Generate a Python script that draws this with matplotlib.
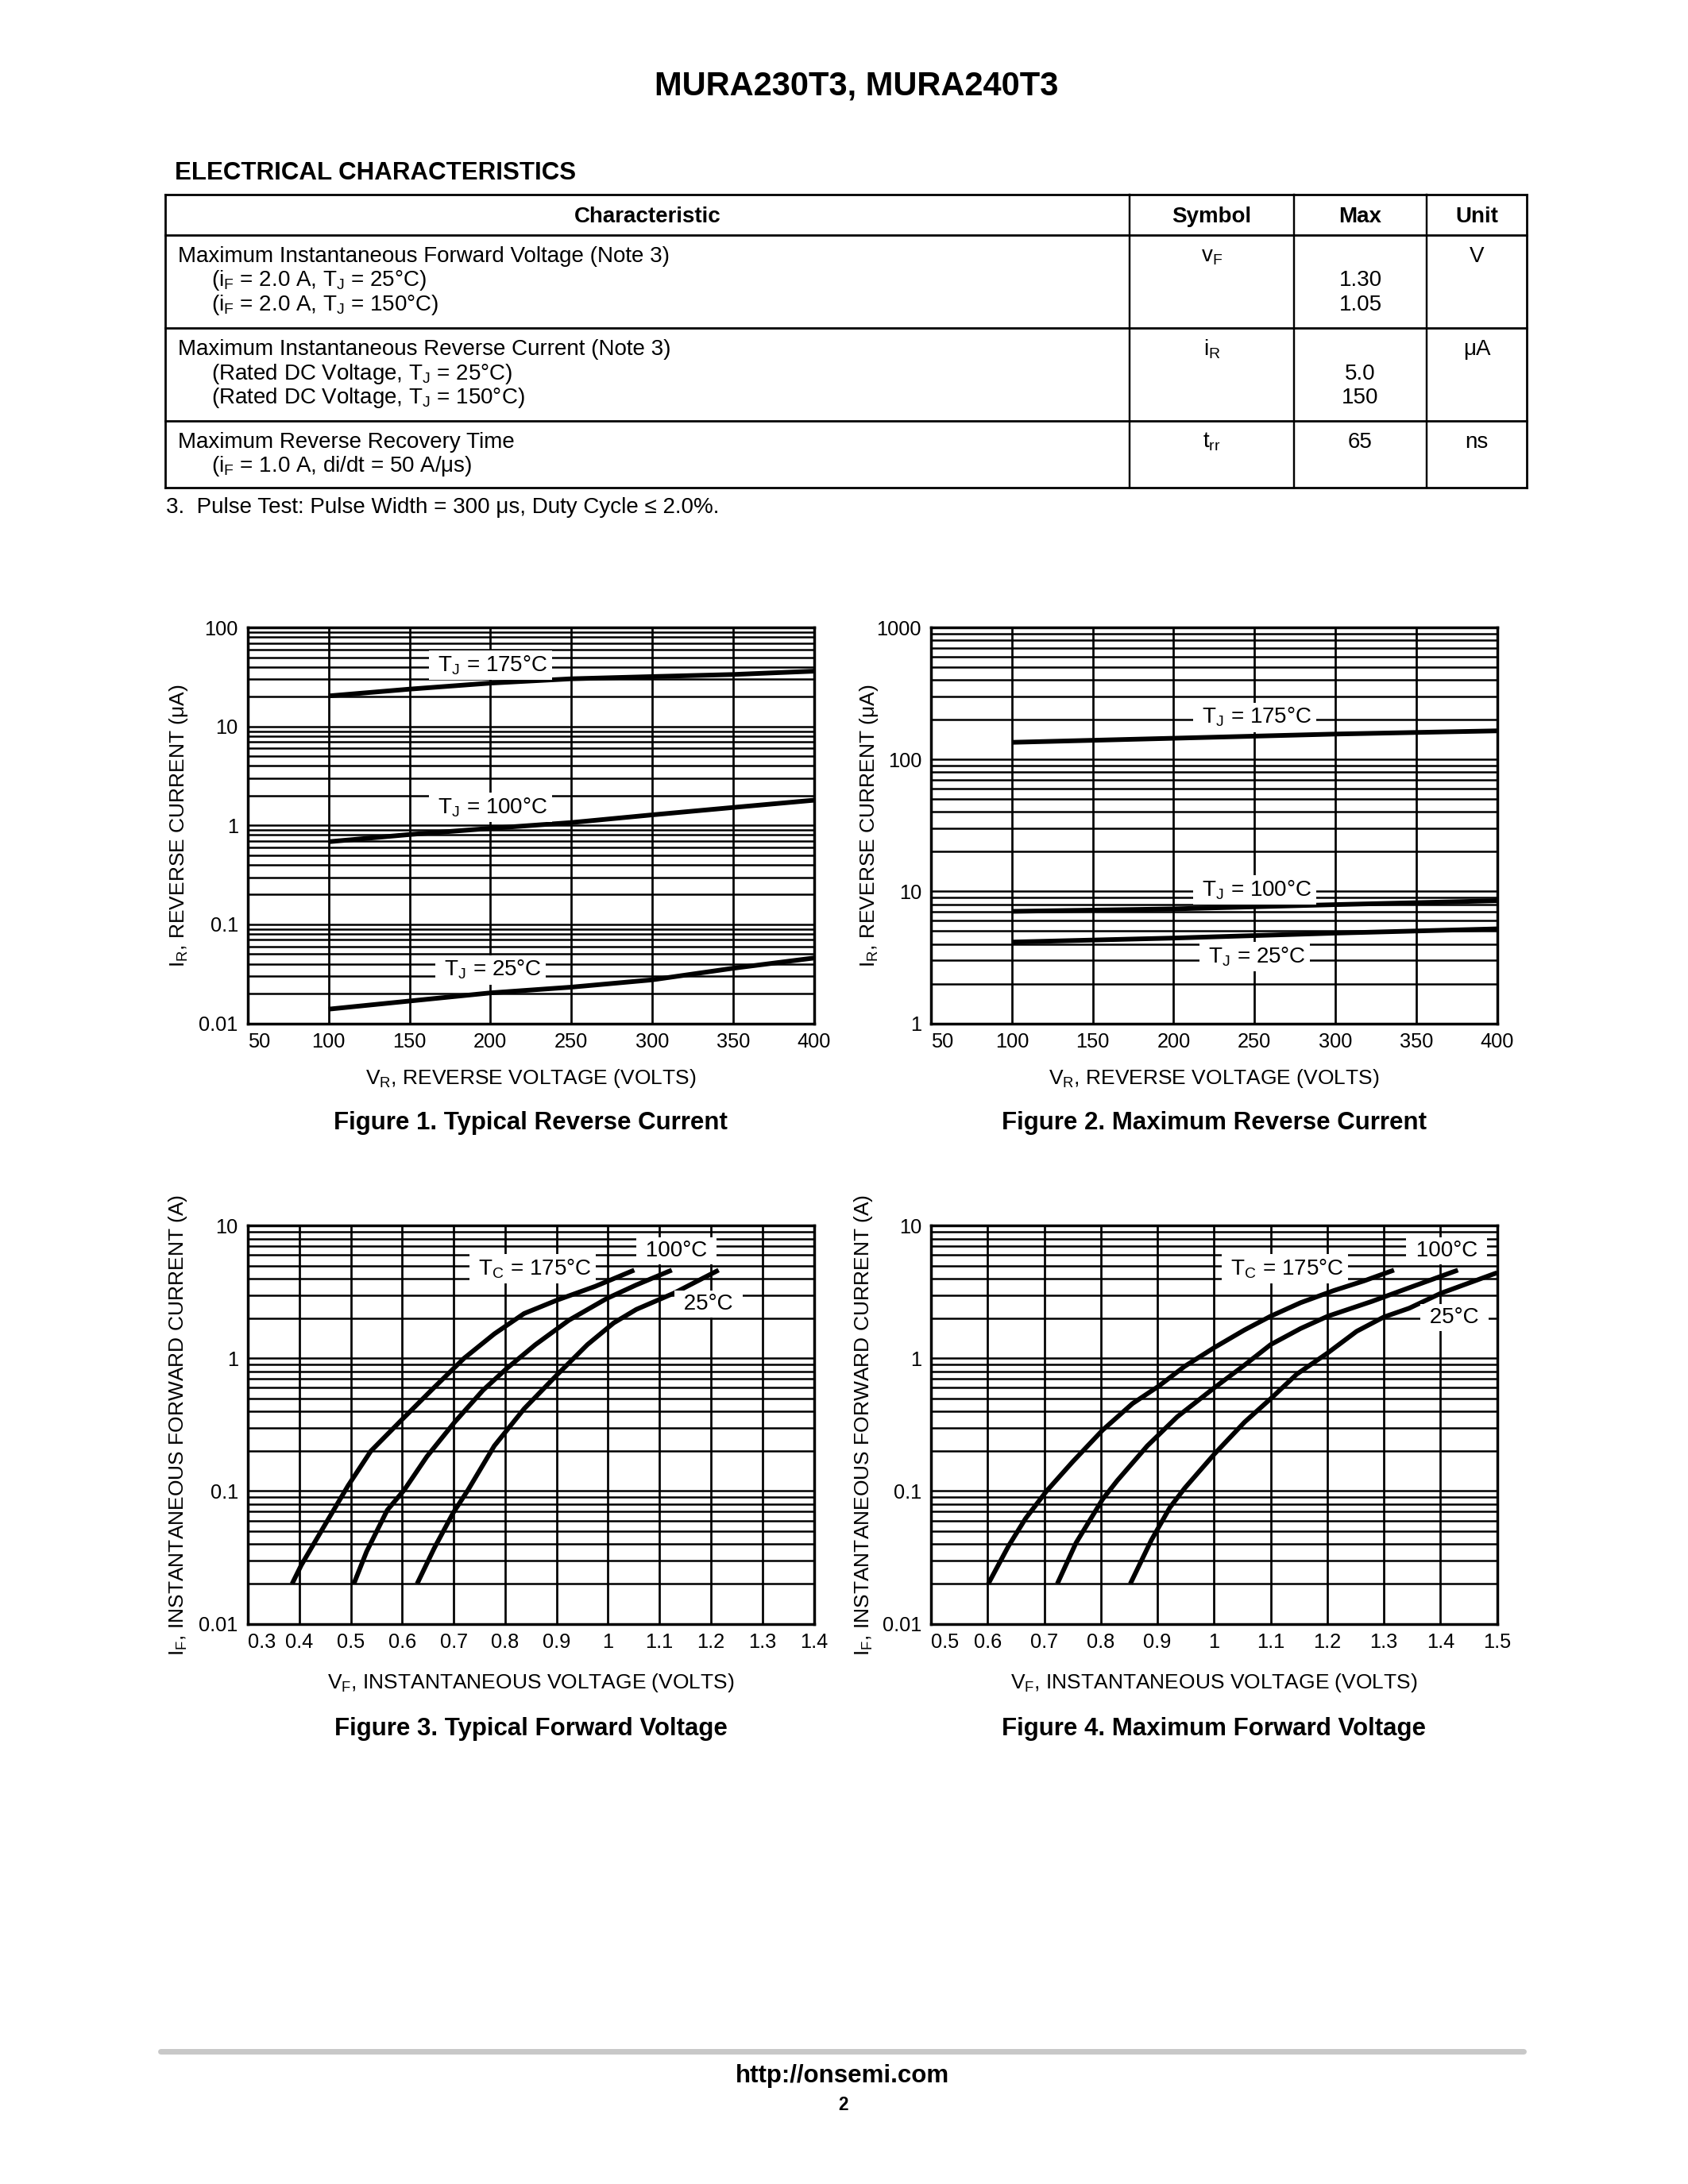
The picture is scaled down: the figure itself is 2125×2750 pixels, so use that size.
import matplotlib
matplotlib.use('Agg')
import matplotlib.pyplot as plt
from matplotlib.lines import Line2D
from matplotlib.ticker import LogLocator, NullFormatter

plt.rcParams['font.family'] = ['Liberation Sans', 'DejaVu Sans']
plt.rcParams['mathtext.default'] = 'regular'
plt.rcParams['mathtext.fontset'] = 'custom'
plt.rcParams['mathtext.rm'] = 'Liberation Sans'
plt.rcParams['mathtext.it'] = 'Liberation Sans:italic'
plt.rcParams['mathtext.bf'] = 'Liberation Sans:bold'

# ---------------- data ----------------
page_title = 'MURA230T3, MURA240T3'
section_title = 'ELECTRICAL CHARACTERISTICS'

table_headers = ['Characteristic', 'Symbol', 'Max', 'Unit']
char_titles = ['Maximum Instantaneous Forward Voltage (Note 3)',
               'Maximum Instantaneous Reverse Current (Note 3)',
               'Maximum Reverse Recovery Time']
char_conditions = [['(i$_F$ = 2.0 A, T$_J$ = 25°C)', '(i$_F$ = 2.0 A, T$_J$ = 150°C)'],
                   ['(Rated DC Voltage, T$_J$ = 25°C)', '(Rated DC Voltage, T$_J$ = 150°C)'],
                   ['(i$_F$ = 1.0 A, di/dt = 50 A/μs)']]
symbols = ['v$_F$', 'i$_R$', 't$_{rr}$']
max_values = [['1.30', '1.05'], ['5.0', '150'], ['65']]
units = ['V', 'μA', 'ns']
footnote = '3.  Pulse Test: Pulse Width = 300 μs, Duty Cycle ≤ 2.0%.'

# Figure 1 - typical reverse current
f1_vr = [100, 150, 200, 250, 300, 350, 400]
f1_ir_175 = [20.4, 23.9, 27.5, 30.4, 32.0, 33.6, 36.3]
f1_ir_100 = [0.685, 0.81, 0.935, 1.07, 1.28, 1.52, 1.80]
f1_ir_25 = [0.0139, 0.0168, 0.0203, 0.0232, 0.0275, 0.036, 0.0457]
f1_xticks = [50, 100, 150, 200, 250, 300, 350, 400]
f1_yticks = [0.01, 0.1, 1, 10, 100]
f1_yticklabels = ['0.01', '0.1', '1', '10', '100']
f1_labels = [('T$_J$ = 175°C', 200, 41.5), ('T$_J$ = 100°C', 200, 1.52), ('T$_J$ = 25°C', 200, 0.0347)]

# Figure 2 - maximum reverse current
f2_vr = [100, 200, 300, 400]
f2_ir_175 = [135, 145, 156, 165]
f2_ir_100 = [7.06, 7.37, 7.94, 8.5]
f2_ir_25 = [4.13, 4.43, 4.83, 5.2]
f2_xticks = [50, 100, 150, 200, 250, 300, 350, 400]
f2_yticks = [1, 10, 100, 1000]
f2_yticklabels = ['1', '10', '100', '1000']
f2_labels = [('T$_J$ = 175°C', 250, 209), ('T$_J$ = 100°C', 250, 10.3), ('T$_J$ = 25°C', 250, 3.21)]

# Figure 3 - typical forward voltage
f3_v_175 = [0.386, 0.404, 0.451, 0.495, 0.539, 0.600, 0.662, 0.720, 0.779, 0.837, 0.902, 0.975, 1.051]
f3_i_175 = [0.02, 0.0277, 0.0566, 0.11, 0.20, 0.347, 0.603, 1.0, 1.53, 2.18, 2.76, 3.49, 4.63]
f3_v_100 = [0.506, 0.531, 0.571, 0.604, 0.648, 0.702, 0.757, 0.802, 0.859, 0.924, 0.997, 1.055, 1.124]
f3_i_100 = [0.02, 0.0351, 0.0718, 0.102, 0.182, 0.331, 0.575, 0.832, 1.27, 1.94, 2.82, 3.58, 4.63]
f3_v_25 = [0.629, 0.662, 0.699, 0.728, 0.779, 0.837, 0.902, 0.960, 1.011, 1.055, 1.128, 1.215]
f3_i_25 = [0.02, 0.0369, 0.0684, 0.102, 0.219, 0.417, 0.759, 1.27, 1.85, 2.34, 3.10, 4.63]
f3_xticks = [0.3, 0.4, 0.5, 0.6, 0.7, 0.8, 0.9, 1.0, 1.1, 1.2, 1.3, 1.4]
f3_xticklabels = ['0.3', '0.4', '0.5', '0.6', '0.7', '0.8', '0.9', '1', '1.1', '1.2', '1.3', '1.4']
f3_labels = [('T$_C$ = 175°C', 0.853, 4.74), ('100°C', 1.133, 6.44), ('25°C', 1.195, 2.57)]

# Figure 4 - maximum forward voltage
f4_v_175 = [0.601, 0.637, 0.667, 0.704, 0.750, 0.803, 0.856, 0.902, 0.948, 1.001, 1.054, 1.100, 1.153, 1.212, 1.265, 1.318]
f4_i_175 = [0.02, 0.0387, 0.0622, 0.1, 0.166, 0.288, 0.457, 0.617, 0.871, 1.21, 1.64, 2.08, 2.63, 3.25, 3.84, 4.63]
f4_v_100 = [0.723, 0.756, 0.803, 0.829, 0.882, 0.935, 1.001, 1.054, 1.100, 1.153, 1.201, 1.279, 1.345, 1.431]
f4_i_100 = [0.02, 0.0406, 0.0867, 0.12, 0.219, 0.363, 0.603, 0.891, 1.27, 1.68, 2.08, 2.69, 3.41, 4.63]
f4_v_25 = [0.852, 0.889, 0.922, 0.948, 1.001, 1.054, 1.101, 1.146, 1.201, 1.252, 1.300, 1.345, 1.401, 1.5]
f4_i_25 = [0.02, 0.0425, 0.0752, 0.105, 0.191, 0.331, 0.501, 0.759, 1.10, 1.60, 2.05, 2.39, 3.10, 4.42]
f4_xticks = [0.5, 0.6, 0.7, 0.8, 0.9, 1.0, 1.1, 1.2, 1.3, 1.4, 1.5]
f4_xticklabels = ['0.5', '0.6', '0.7', '0.8', '0.9', '1', '1.1', '1.2', '1.3', '1.4', '1.5']
f4_labels = [('T$_C$ = 175°C', 1.125, 4.74), ('100°C', 1.411, 6.44), ('25°C', 1.425, 2.03)]

fwd_yticks = [0.01, 0.1, 1, 10]
fwd_yticklabels = ['0.01', '0.1', '1', '10']

captions = ['Figure 1. Typical Reverse Current', 'Figure 2. Maximum Reverse Current',
            'Figure 3. Typical Forward Voltage', 'Figure 4. Maximum Forward Voltage']
rev_xlabel = 'V$_R$, REVERSE VOLTAGE (VOLTS)'
rev_ylabel = 'I$_R$, REVERSE CURRENT (μA)'
fwd_xlabel = 'V$_F$, INSTANTANEOUS VOLTAGE (VOLTS)'
fwd_ylabel = 'I$_F$, INSTANTANEOUS FORWARD CURRENT (A)'
footer_url = 'http://onsemi.com'
page_number = '2'

# ---------------- page ----------------
W, H = 2125, 2750
DPI = 250
fig = plt.figure(figsize=(W / DPI, H / DPI), dpi=DPI)
fig.patch.set_facecolor('white')


def fx(x):
    return x / W


def fy(y):
    return 1 - y / H


def ftext(x, y, s, **kw):
    return fig.text(fx(x), fy(y), s, **kw)


def fline(x0, y0, x1, y1, lw=0.75, color='k', cap='projecting'):
    fig.add_artist(Line2D([fx(x0), fx(x1)], [fy(y0), fy(y1)], transform=fig.transFigure,
                          lw=lw, color=color, solid_capstyle=cap))


# title
ftext(1078, 119, page_title, ha='center', va='baseline', fontsize=12, fontweight='bold')
ftext(220, 225.5, section_title, ha='left', va='baseline', fontsize=9, fontweight='bold')

# table
T_L, T_R = 208, 1922
T_rows = [244.5, 296, 413, 530, 614]
T_cols = [1422, 1629, 1796]
for y in T_rows:
    fline(T_L, y, T_R, y, lw=0.8)
fline(T_L, T_rows[0], T_L, T_rows[-1], lw=0.8)
fline(T_R, T_rows[0], T_R, T_rows[-1], lw=0.8)
for x in T_cols:
    fline(x, T_rows[0], x, T_rows[-1], lw=0.7)

col_edges = [T_L] + T_cols + [T_R]
col_centers = [(col_edges[i] + col_edges[i + 1]) / 2 for i in range(4)]
for i, h in enumerate(table_headers):
    ftext(col_centers[i], 280, h, ha='center', va='baseline', fontsize=8, fontweight='bold')

LS = 30.5
for r in range(3):
    base = T_rows[r + 1] + 34
    ftext(224, base, char_titles[r], ha='left', va='baseline', fontsize=8)
    for k, c in enumerate(char_conditions[r]):
        ftext(266.5, base + LS * (k + 1), c, ha='left', va='baseline', fontsize=8)
    ftext(col_centers[1], base, symbols[r], ha='center', va='baseline', fontsize=8)
    mv = max_values[r]
    if len(mv) == len(char_conditions[r]) and len(mv) > 1:
        for k, m in enumerate(mv):
            ftext(col_centers[2], base + LS * (k + 1), m, ha='center', va='baseline', fontsize=8)
    else:
        ftext(col_centers[2], base, mv[0], ha='center', va='baseline', fontsize=8)
    ftext(col_centers[3], base, units[r], ha='center', va='baseline', fontsize=8)

ftext(209, 646.5, footnote, ha='left', va='baseline', fontsize=8)


# ---------------- charts ----------------
def make_axes(l, r, t, b):
    return fig.add_axes([fx(l), fy(b), fx(r) - fx(l), fy(t) - fy(b)])


def setup(ax, xlim, xticks, xticklabels, ylim, yticks, yticklabels):
    ax.set_yscale('log')
    ax.set_xlim(*xlim)
    ax.set_ylim(*ylim)
    ax.set_xticks(xticks)
    ax.set_xticklabels(xticklabels)
    ax.set_yticks(yticks)
    ax.set_yticklabels(yticklabels)
    ax.yaxis.set_minor_locator(LogLocator(base=10, subs=range(2, 10), numticks=100))
    ax.yaxis.set_minor_formatter(NullFormatter())
    ax.tick_params(which='both', length=0)
    ax.tick_params(axis='x', pad=3.4, labelsize=7.3)
    ax.tick_params(axis='y', pad=3.5, labelsize=7.3)
    ax.set_axisbelow(True)
    ax.grid(True, which='both', axis='y', color='k', lw=0.72)
    ax.grid(True, which='major', axis='x', color='k', lw=0.78)
    for s in ax.spines.values():
        s.set_linewidth(1.0)
        s.set_zorder(4)
    ax.get_xticklabels()[0].set_ha('left')


def curve(ax, x, y):
    ax.plot(x, y, color='k', lw=1.7, solid_capstyle='butt', solid_joinstyle='round', zorder=2)


def label(ax, s, x, y):
    ax.text(x, y, ' ' + s + ' ', ha='center', va='center', fontsize=8, zorder=5,
            bbox=dict(facecolor='white', edgecolor='none', boxstyle='square,pad=0.15'))


REV_T, REV_B = 790.3, 1288.5
FWD_T, FWD_B = 1543.4, 2044.5
L1, R1 = 312, 1024.5
L2, R2 = 1172.2, 1884.5

# Figure 1
ax1 = make_axes(L1, R1, REV_T, REV_B)
setup(ax1, (50, 400), f1_xticks, [str(v) for v in f1_xticks], (0.01, 100), f1_yticks, f1_yticklabels)
for ir in (f1_ir_175, f1_ir_100, f1_ir_25):
    curve(ax1, f1_vr, ir)
for s, x, y in f1_labels:
    label(ax1, s, x, y)

# Figure 2
ax2 = make_axes(L2, R2, REV_T, REV_B)
setup(ax2, (50, 400), f2_xticks, [str(v) for v in f2_xticks], (1, 1000), f2_yticks, f2_yticklabels)
for ir in (f2_ir_175, f2_ir_100, f2_ir_25):
    curve(ax2, f2_vr, ir)
for s, x, y in f2_labels:
    label(ax2, s, x, y)

# Figure 3
ax3 = make_axes(L1, R1, FWD_T, FWD_B)
setup(ax3, (0.3, 1.4), f3_xticks, f3_xticklabels, (0.01, 10), fwd_yticks, fwd_yticklabels)
for v, i in ((f3_v_175, f3_i_175), (f3_v_100, f3_i_100), (f3_v_25, f3_i_25)):
    curve(ax3, v, i)
for s, x, y in f3_labels:
    label(ax3, s, x, y)

# Figure 4
ax4 = make_axes(L2, R2, FWD_T, FWD_B)
setup(ax4, (0.5, 1.5), f4_xticks, f4_xticklabels, (0.01, 10), fwd_yticks, fwd_yticklabels)
for v, i in ((f4_v_175, f4_i_175), (f4_v_100, f4_i_100), (f4_v_25, f4_i_25)):
    curve(ax4, v, i)
for s, x, y in f4_labels:
    label(ax4, s, x, y)

# axis labels and captions
c1 = (L1 + R1) / 2
c2 = (L2 + R2) / 2
ftext(c1, 1365, rev_xlabel, ha='center', va='baseline', fontsize=7.6)
ftext(c2, 1365, rev_xlabel, ha='center', va='baseline', fontsize=7.6)
ftext(c1, 2126, fwd_xlabel, ha='center', va='baseline', fontsize=7.6)
ftext(c2, 2126, fwd_xlabel, ha='center', va='baseline', fontsize=7.6)

ftext(c1, 1421.7, captions[0], ha='center', va='baseline', fontsize=9, fontweight='bold')
ftext(c2, 1421.7, captions[1], ha='center', va='baseline', fontsize=9, fontweight='bold')
ftext(c1, 2185, captions[2], ha='center', va='baseline', fontsize=9, fontweight='bold')
ftext(c2, 2185, captions[3], ha='center', va='baseline', fontsize=9, fontweight='bold')

rev_mid = (REV_T + REV_B) / 2
fwd_mid = (FWD_T + FWD_B) / 2
ftext(225, rev_mid, rev_ylabel, ha='center', va='center', rotation=90, fontsize=7.6)
ftext(1094, rev_mid, rev_ylabel, ha='center', va='center', rotation=90, fontsize=7.6)
ftext(224, fwd_mid, fwd_ylabel, ha='center', va='center', rotation=90, fontsize=7.6)
ftext(1087, fwd_mid, fwd_ylabel, ha='center', va='center', rotation=90, fontsize=7.6)

# footer
fline(202, 2583, 1918, 2583, lw=2.0, color='#c8c8c8', cap='round')
ftext(1061, 2622, footer_url, ha='center', va='baseline', fontsize=9, fontweight='bold')
ftext(1061, 2657, page_number, ha='center', va='baseline', fontsize=6.5, fontweight='bold')

fig.savefig('out.png', dpi=DPI, facecolor='white')
